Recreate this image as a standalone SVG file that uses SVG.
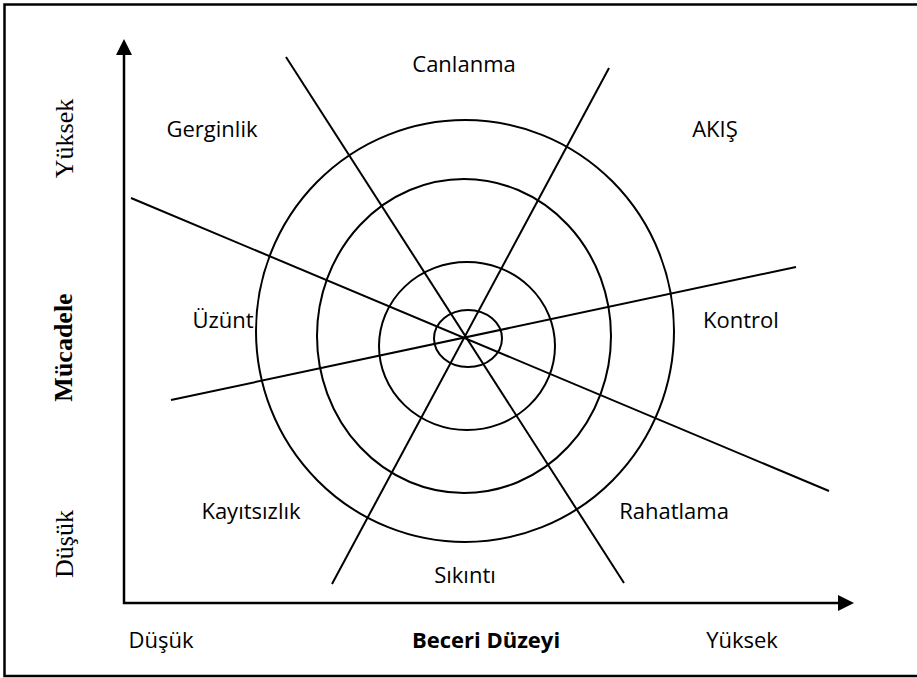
<svg xmlns="http://www.w3.org/2000/svg" width="917" height="678" viewBox="0 0 917 678">
<style>
.ln{fill:none;stroke:#000;stroke-width:2}
.ax{fill:none;stroke:#000;stroke-width:2.5}
.lb{font-family:"Open Sans","Liberation Sans",sans-serif;font-size:22px;fill:#000;text-anchor:middle}
.b{font-weight:bold}
.sf{font-family:"Liberation Serif","Times New Roman",serif;font-size:26px;fill:#000;text-anchor:middle}
</style>
<rect x="4.5" y="4.5" width="930" height="671.5" fill="#fff" stroke="#000" stroke-width="2.5"/>
<g id="axes">
<polyline class="ax" points="124,52 124,603 842,603"/>
<polygon points="124,39 116,55 132,55" fill="#000"/>
<polygon points="854,603 838,595 838,611" fill="#000"/>
</g>
<g id="rings">
<ellipse class="ln" cx="465" cy="331" rx="209" ry="211"/>
<ellipse class="ln" cx="464" cy="336" rx="147" ry="157"/>
<ellipse class="ln" cx="467" cy="346" rx="88" ry="84"/>
<ellipse class="ln" cx="468" cy="338.5" rx="34" ry="28.5"/>
</g>
<g id="connectors">
<line class="ln" x1="131" y1="198" x2="829" y2="491"/>
<line class="ln" x1="171" y1="400" x2="796" y2="267"/>
<line class="ln" x1="286" y1="57" x2="624" y2="583"/>
<line class="ln" x1="609" y1="68" x2="332" y2="584"/>
</g>
<g id="regions">
<text class="lb" x="464" y="72">Canlanma</text>
<text class="lb" x="212" y="137">Gerginlik</text>
<text class="lb" x="715" y="137">AKIŞ</text>
<text class="lb" x="223" y="328">Üzünt</text>
<text class="lb" x="741" y="328">Kontrol</text>
<text class="lb" x="251" y="519">Kayıtsızlık</text>
<text class="lb" x="674" y="519">Rahatlama</text>
<text class="lb" x="465" y="583">Sıkıntı</text>
</g>
<g id="x-labels">
<text class="lb" x="161" y="648">Düşük</text>
<text class="lb b" x="486" y="648">Beceri Düzeyi</text>
<text class="lb" x="742" y="648">Yüksek</text>
</g>
<g id="y-labels">
<text class="sf" transform="translate(73,138.5) rotate(-90)">Yüksek</text>
<text class="sf b" transform="translate(72,347.5) rotate(-90)">Mücadele</text>
<text class="sf" transform="translate(73,544) rotate(-90)">Düşük</text>
</g>
</svg>
